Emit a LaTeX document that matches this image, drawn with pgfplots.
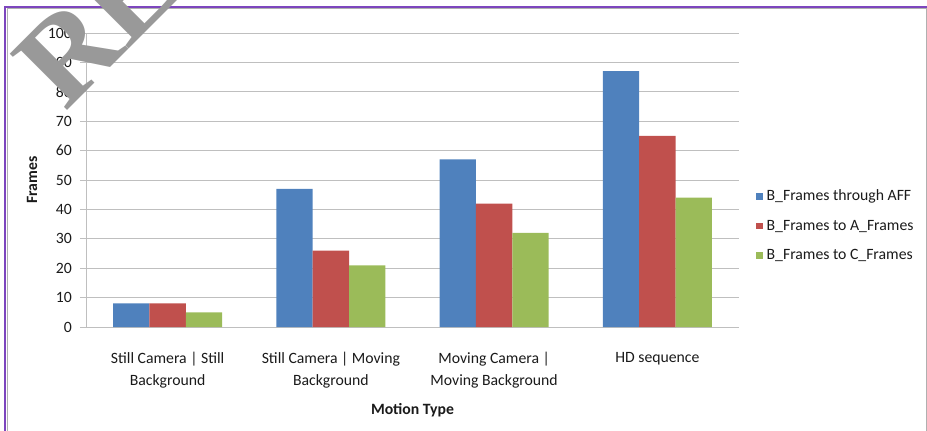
\documentclass[border=0pt]{standalone}
\usepackage{pgfplots}
\pgfplotsset{compat=1.18}
\usepackage{fontspec}
\setmainfont{Carlito}
\newfontfamily\wmfont{Liberation Serif}

\definecolor{barblue}{HTML}{4F81BD}
\definecolor{barred}{HTML}{C0504D}
\definecolor{bargreen}{HTML}{9BBB59}
\definecolor{gridgray}{HTML}{BFBFBF}
\definecolor{framepurple}{RGB}{125,70,190}
\definecolor{framegray}{HTML}{B0B0B0}
\definecolor{wmgray}{HTML}{999999}
\definecolor{labeltext}{HTML}{1A1A1A}

% frames per motion type: x = category index
\pgfplotstableread{
x  aff  toa  toc
0   8    8    5
1  47   26   21
2  57   42   32
3  87   65   44
}\frametable

\begin{document}
\begin{tikzpicture}
\useasboundingbox (0pt,0pt) rectangle (695.25pt,-322.5pt);
\clip (0pt,0pt) rectangle (695.25pt,-322.5pt);

% outer frame (1 unit = one pixel of the page)
\begin{scope}[x=0.75pt,y=-0.75pt]
  \draw[framepurple, line width=1.5pt] (5,6.5) rectangle (940,445);
  \draw[framegray, line width=0.75pt] (7.5,8.5) rectangle (926,445);
\end{scope}

\begin{axis}[
  at={(64.5pt,-245.25pt)}, anchor=south west,
  scale only axis, width=489.75pt, height=220.5pt,
  ybar=0pt, bar width=27.2pt,
  xmin=-0.5, xmax=3.5, ymin=0, ymax=100,
  ytick={0,10,...,100},
  xtick={0,1,2,3},
  xticklabels={{Still Camera | Still\\Background},
               {Still Camera | Moving\\Background},
               {Moving Camera |\\Moving Background},
               {HD sequence}},
  axis lines*=left,
  axis line style={gridgray, line width=0.75pt},
  ymajorgrids, grid style={gridgray, line width=0.75pt},
  tick align=outside, major tick length=4.5pt,
  ytick style={gridgray, line width=0.75pt},
  xtick style={draw=none},
  /pgf/number format/assume math mode=true,
  tick label style={text=labeltext, font=\fontsize{11.8}{16.5}\selectfont},
  yticklabel style={inner sep=0pt, xshift=-6pt},
  xticklabel style={align=center, anchor=north, inner sep=0pt, yshift=-14pt},
  xlabel={Motion Type}, ylabel={Frames},
  label style={text=labeltext, font=\bfseries\fontsize{11.8}{14}\selectfont},
  xlabel style={at={(axis description cs:0.5,-0.282)}, anchor=center},
  ylabel style={at={(axis description cs:-0.0827,0.5)}, anchor=center},
  legend cell align=left,
  legend image code/.code={\fill[#1] (0pt,-2.6pt) rectangle (5.25pt,2.6pt);},
  legend style={at={(1.02,0.3435)}, anchor=west, draw=none, fill=none,
    font=\fontsize{11.8}{14}\selectfont, text=labeltext,
    row sep=10pt,
    nodes={inner sep=0pt, text height=9pt, text depth=3pt},
    /tikz/every odd column/.append style={column sep=2.5pt}},
]
\addplot[draw=none, fill=barblue]  table[x=x, y=aff] {\frametable};
\addplot[draw=none, fill=barred]   table[x=x, y=toa] {\frametable};
\addplot[draw=none, fill=bargreen] table[x=x, y=toc] {\frametable};
\legend{B\_Frames through AFF, B\_Frames to A\_Frames, B\_Frames to C\_Frames}
\end{axis}

% stamp across the upper left corner
\begin{scope}[x=0.75pt,y=-0.75pt]
  \node[rotate=45, anchor=base west, text=wmgray, inner sep=0pt,
        font=\wmfont\bfseries\fontsize{92}{92}\selectfont] at (65,113) {RE};
\end{scope}
\end{tikzpicture}
\end{document}
